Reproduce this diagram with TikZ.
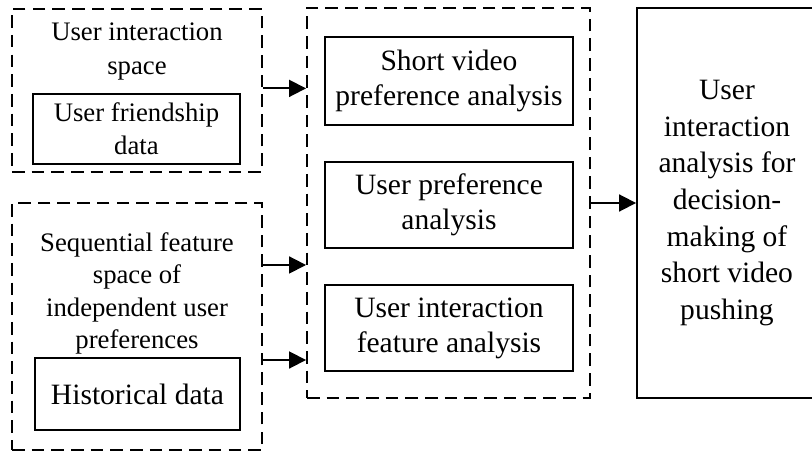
\documentclass[tikz,border=0pt]{standalone}
\usepackage{fontspec}
\setmainfont{Liberation Serif}
\usetikzlibrary{arrows.meta}
\tikzset{
  dashbox/.style={draw, line width=1.3pt, dash pattern=on 9pt off 5pt, inner sep=0pt},
  solidbox/.style={draw, line width=1.3pt, inner sep=0pt, align=center},
  arr/.style={line width=1.3pt, -{Triangle[length=12pt,width=12pt]}},
  smalltxt/.style={font=\fontsize{19}{23.5}\selectfont, align=center},
  bigtxt/.style={font=\fontsize{21}{25}\selectfont, align=center}
}
\begin{document}
\begin{tikzpicture}[x=0.025cm,y=-0.025cm]
\useasboundingbox (0,0) rectangle (812,452);
\clip (0,0) rectangle (812,452);
% left spaces
\node[dashbox, minimum width=6.25cm, minimum height=4.075cm] (spaceA) at (137,90.5) {};
\node[smalltxt] (labA) at (137,51.5) {User interaction\\space};
\node[solidbox, smalltxt, minimum width=5.175cm, minimum height=1.75cm] (friend) at (136.5,129) {User friendship\\data};
\node[dashbox, minimum width=6.25cm, minimum height=6.175cm] (spaceB) at (137,326.5) {};
\node[font=\fontsize{19}{23}\selectfont, align=center] (labB) at (137,293.5) {Sequential feature\\space of\\independent user\\preferences};
\node[solidbox, bigtxt, minimum width=5.125cm, minimum height=1.8cm] (hist) at (137.5,394) {Historical data};
% analysis
\node[dashbox, minimum width=7.075cm, minimum height=9.75cm] (anaC) at (448.5,203) {};
\node[solidbox, font=\fontsize{21}{24.8}\selectfont, minimum width=6.2cm, minimum height=2.2cm] (video) at (449,81) {Short video\\preference analysis};
\node[solidbox, font=\fontsize{21}{24.8}\selectfont, minimum width=6.2cm, minimum height=2.15cm] (pref) at (449,205) {User preference\\analysis};
\node[solidbox, font=\fontsize{21}{24.8}\selectfont, minimum width=6.2cm, minimum height=2.15cm] (inter) at (449,328) {User interaction\\feature analysis};
% decision
\node[solidbox, font=\fontsize{21}{26}\selectfont, minimum width=4.5cm, minimum height=9.75cm] (push) at (727,203) {User\\interaction\\analysis for\\decision-\\making of\\short video\\pushing};
% arrows
\draw[arr] ([yshift=1.5pt]spaceA.east) -- ([yshift=1.5pt]spaceA.east -| anaC.west);
\draw[arr] ([yshift=1.5375cm]spaceB.east) -- ([yshift=1.5375cm]spaceB.east -| anaC.west);
\draw[arr] ([yshift=-0.8375cm]spaceB.east) -- ([yshift=-0.8375cm]spaceB.east -| anaC.west);
\draw[arr] (anaC.east) -- (push.west);
\end{tikzpicture}
\end{document}
